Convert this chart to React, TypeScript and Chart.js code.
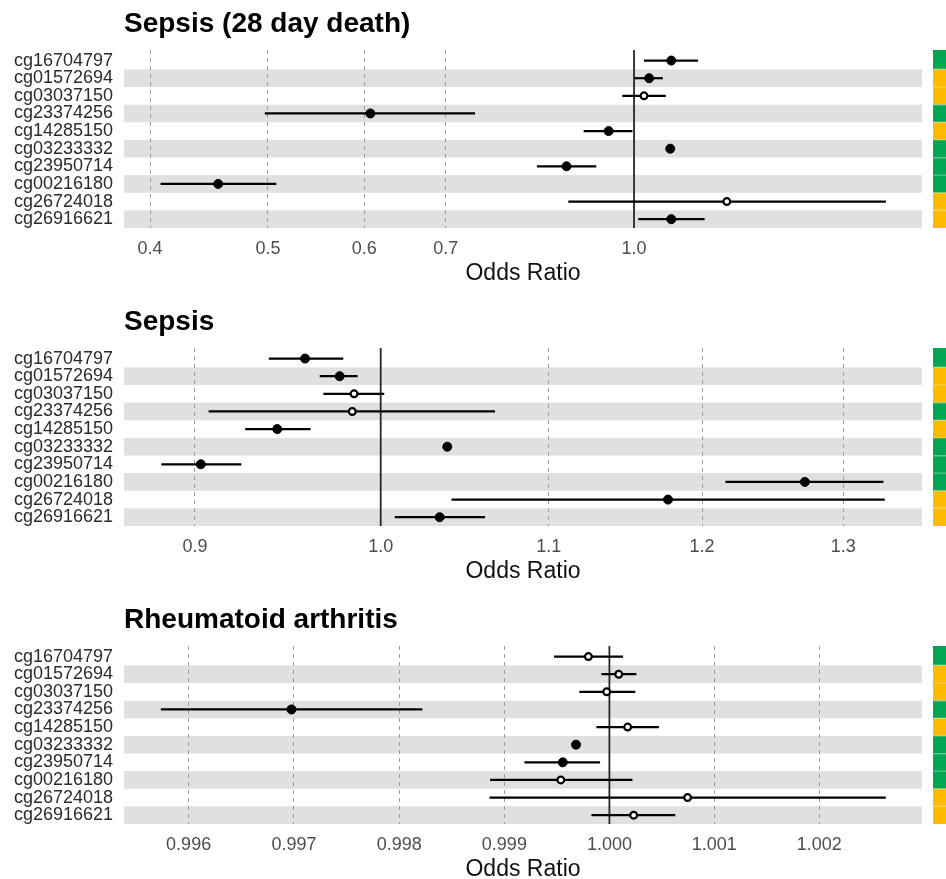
import React, { useEffect, useRef } from "react";
import { Chart, registerables } from "chart.js";

Chart.register(...registerables);

const FONT = "'Liberation Sans', Arial, Helvetica, sans-serif";
Chart.defaults.font.family = FONT;

// CpG probes, top to bottom
const probes = [
  "cg16704797",
  "cg01572694",
  "cg03037150",
  "cg23374256",
  "cg14285150",
  "cg03233332",
  "cg23950714",
  "cg00216180",
  "cg26724018",
  "cg26916621",
];

// probe group shown in the side strip (0 = green, 1 = amber)
const probeGroup = [0, 1, 1, 0, 1, 0, 0, 0, 1, 1];
const groupColors = ["#00A651", "#FDBB00"];

// Sepsis (28 day death)
const deathOR = [1.073, 1.029, 1.019, 0.607, 0.953, 1.071, 0.88, 0.455, 1.192, 1.073];
const deathLower = [1.019, 1.001, 0.978, 0.497, 0.909, 1.066, 0.832, 0.408, 0.883, 1.008];
const deathUpper = [1.129, 1.056, 1.062, 0.74, 0.997, 1.075, 0.931, 0.508, 1.611, 1.143];
const deathSignificant = [true, true, false, true, true, true, true, true, false, true];
const deathTicks = [0.4, 0.5, 0.6, 0.7, 1.0];
const deathTickLabels = ["0.4", "0.5", "0.6", "0.7", "1.0"];

// Sepsis
const sepsisOR = [0.958, 0.977, 0.985, 0.984, 0.943, 1.0385, 0.903, 1.272, 1.177, 1.034];
const sepsisLower = [0.9385, 0.966, 0.968, 0.907, 0.926, 1.0368, 0.883, 1.216, 1.041, 1.008];
const sepsisUpper = [0.979, 0.987, 1.002, 1.067, 0.961, 1.0402, 0.924, 1.33, 1.331, 1.061];
const sepsisSignificant = [true, true, false, false, true, true, true, true, true, true];
const sepsisTicks = [0.9, 1.0, 1.1, 1.2, 1.3];
const sepsisTickLabels = ["0.9", "1.0", "1.1", "1.2", "1.3"];

// Rheumatoid arthritis
const raOR = [0.9998, 1.000089, 0.999974, 0.996976, 1.000174, 0.999682, 0.999556, 0.999537, 1.000745, 1.000231];
const raLower = [0.999473, 0.999924, 0.999714, 0.995736, 0.999876, 0.999655, 0.999191, 0.998864, 0.998858, 0.999829];
const raUpper = [1.00013, 1.000257, 1.000247, 0.99822, 1.000472, 0.99971, 0.999911, 1.000219, 1.002636, 1.000628];
const raSignificant = [false, false, false, true, false, true, true, false, false, false];
const raTicks = [0.996, 0.997, 0.998, 0.999, 1.0, 1.001, 1.002];
const raTickLabels = ["0.996", "0.997", "0.998", "0.999", "1.000", "1.001", "1.002"];

type Panel = {
  title: string;
  or: number[];
  lower: number[];
  upper: number[];
  significant: boolean[];
  ticks: number[];
  tickLabels: string[];
  xMin: number;
  xMax: number;
  top: number;
  height: number;
  plotTop: number;
};

const panels: Panel[] = [
  {
    title: "Sepsis (28 day death)",
    or: deathOR,
    lower: deathLower,
    upper: deathUpper,
    significant: deathSignificant,
    ticks: deathTicks,
    tickLabels: deathTickLabels,
    xMin: 0.3807,
    xMax: 1.725,
    top: 0,
    height: 290,
    plotTop: 50,
  },
  {
    title: "Sepsis",
    or: sepsisOR,
    lower: sepsisLower,
    upper: sepsisUpper,
    significant: sepsisSignificant,
    ticks: sepsisTicks,
    tickLabels: sepsisTickLabels,
    xMin: 0.8645,
    xMax: 1.3594,
    top: 290,
    height: 298,
    plotTop: 58,
  },
  {
    title: "Rheumatoid arthritis",
    or: raOR,
    lower: raLower,
    upper: raUpper,
    significant: raSignificant,
    ticks: raTicks,
    tickLabels: raTickLabels,
    xMin: 0.995387,
    xMax: 1.002982,
    top: 588,
    height: 298,
    plotTop: 58,
  },
];

const CANVAS_WIDTH = 946;
const X_AXIS_HEIGHT = 62;

function ForestPanel({ panel }: { panel: Panel }) {
  const ref = useRef<HTMLCanvasElement | null>(null);

  useEffect(() => {
    const canvas = ref.current;
    if (!canvas) return;

    const decor = {
      id: "forestDecor",
      beforeDraw(chart: any) {
        const { ctx, chartArea: a, scales } = chart;
        const y = scales.y;
        ctx.save();
        // alternating row bands
        ctx.fillStyle = "#e0e0e0";
        for (let r = 2; r <= probes.length; r += 2) {
          const y0 = y.getPixelForValue(r - 0.5);
          const y1 = y.getPixelForValue(r + 0.5);
          ctx.fillRect(a.left, y0, a.right - a.left, y1 - y0);
        }
        // group strip on the right
        const stripX = a.right + 11;
        probeGroup.forEach((g, i) => {
          const y0 = i === 0 ? a.top : y.getPixelForValue(i + 0.5);
          const y1 = y.getPixelForValue(i + 1.5);
          ctx.fillStyle = groupColors[g];
          ctx.fillRect(stripX, y0, CANVAS_WIDTH - stripX, y1 - y0);
        });
        ctx.fillStyle = "rgba(255,255,255,0.35)";
        for (let i = 1; i < probeGroup.length; i++) {
          const yy = Math.round(y.getPixelForValue(i + 0.5));
          ctx.fillRect(stripX, yy - 0.5, CANVAS_WIDTH - stripX, 1);
        }
        // panel title
        ctx.fillStyle = "#000";
        ctx.font = `bold 28px ${FONT}`;
        ctx.textAlign = "left";
        ctx.textBaseline = "alphabetic";
        ctx.fillText(panel.title, a.left, a.top - 18.3);
        ctx.restore();
      },
      beforeDatasetsDraw(chart: any) {
        const { ctx, chartArea: a, scales } = chart;
        const x = scales.x.getPixelForValue(1);
        ctx.save();
        ctx.strokeStyle = "#262626";
        ctx.lineWidth = 1.8;
        ctx.beginPath();
        ctx.moveTo(x, a.top);
        ctx.lineTo(x, a.bottom);
        ctx.stroke();
        ctx.restore();
      },
    };

    const pointData = panel.or.map((v, i) => ({ x: v, y: i + 1 }));
    const errorBars = panel.lower.map((lo, i) => ({
      data: [
        { x: lo, y: i + 1 },
        { x: panel.upper[i], y: i + 1 },
      ],
      showLine: true,
      borderColor: "#000",
      borderWidth: 2.2,
      pointRadius: 0,
      order: 1,
    }));

    const chart = new Chart(canvas, {
      type: "scatter",
      data: {
        datasets: [
          {
            data: pointData,
            order: 0,
            showLine: false,
            pointRadius: panel.significant.map((s) => (s ? 4.5 : 3.4)),
            pointBorderWidth: panel.significant.map((s) => (s ? 1 : 2.2)),
            pointBackgroundColor: panel.significant.map((s) => (s ? "#000" : "#fff")),
            pointBorderColor: "#000",
          },
          ...errorBars,
        ] as any,
      },
      options: {
        animation: false,
        responsive: false,
        devicePixelRatio: 1,
        events: [],
        layout: { padding: { top: panel.plotTop, right: 24, bottom: 0, left: 0 } },
        plugins: {
          legend: { display: false },
          tooltip: { enabled: false },
          title: { display: false },
        },
        scales: {
          x: {
            type: "logarithmic",
            min: panel.xMin,
            max: panel.xMax,
            bounds: "data",
            afterBuildTicks: (s: any) => {
              s.ticks = panel.ticks.map((v) => ({ value: v }));
            },
            afterFit: (s: any) => {
              s.height = X_AXIS_HEIGHT;
            },
            ticks: {
              autoSkip: false,
              maxRotation: 0,
              padding: 10.5,
              color: "#4d4d4d",
              font: { size: 18, family: FONT },
              callback: (_v: any, i: number) => panel.tickLabels[i],
            },
            grid: {
              drawTicks: false,
              lineWidth: 1,
              color: (ctx: any) =>
                ctx.tick && Math.abs(ctx.tick.value - 1) < 1e-9 ? "rgba(0,0,0,0)" : "#9e9e9e",
            },
            border: { display: false, dash: [4, 4] },
            title: {
              display: true,
              text: "Odds Ratio",
              color: "#111",
              font: { size: 23, family: FONT },
              padding: { top: 0, bottom: 3 },
            },
          },
          y: {
            type: "linear",
            reverse: true,
            min: 0.4,
            max: 10.5,
            afterBuildTicks: (s: any) => {
              s.ticks = probes.map((_, i) => ({ value: i + 1 }));
            },
            afterFit: (s: any) => {
              s.width = 124;
            },
            ticks: {
              autoSkip: false,
              padding: 11,
              color: "#2b2b2b",
              font: { size: 18, family: FONT },
              callback: (v: any) => probes[Math.round(Number(v)) - 1],
            },
            grid: { display: false, drawTicks: false },
            border: { display: false },
          },
        },
      } as any,
      plugins: [decor],
    });

    return () => chart.destroy();
  }, [panel]);

  return (
    <canvas
      ref={ref}
      width={CANVAS_WIDTH}
      height={panel.height}
      style={{ position: "absolute", left: 0, top: panel.top, display: "block" }}
    />
  );
}

export default function App() {
  return (
    <div
      style={{
        position: "absolute",
        left: 0,
        top: 0,
        width: 946,
        height: 879,
        overflow: "hidden",
        background: "#fff",
      }}
    >
      {panels.map((p) => (
        <ForestPanel key={p.title} panel={p} />
      ))}
    </div>
  );
}
